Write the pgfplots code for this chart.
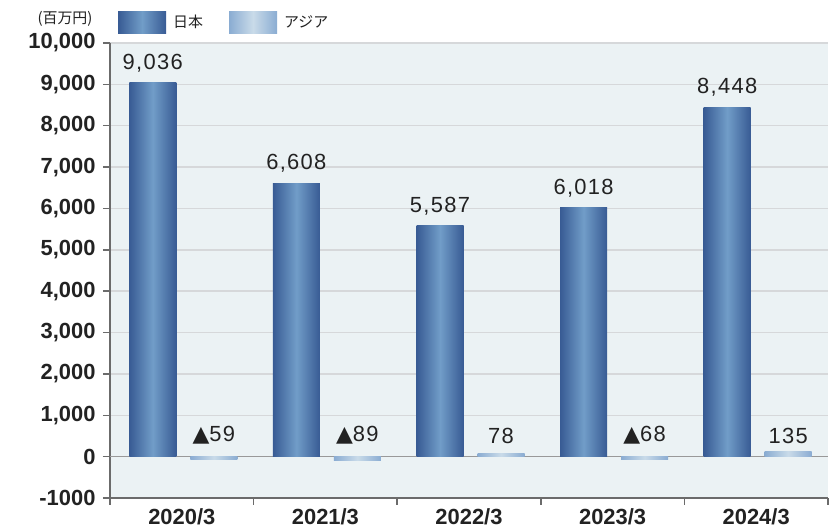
\documentclass[border=0pt]{standalone}
\usepackage{fontspec}
\setmainfont{Liberation Sans}
\newfontfamily\cjk{Noto Sans CJK JP}
\newfontfamily\dejavu{DejaVu Sans}
\newfontfamily\lab[LetterSpace=6]{Liberation Sans}
\usepackage{pgfplots}
\pgfplotsset{compat=1.18}
\definecolor{jpD}{HTML}{385B94}
\definecolor{jpL}{HTML}{719DC8}
\definecolor{asD}{HTML}{8AACD2}
\definecolor{asL}{HTML}{C9DBE9}
\definecolor{bg}{HTML}{EBF2F4}
\definecolor{gridc}{HTML}{D6D8DA}
\definecolor{axc}{HTML}{6B6B6B}
\definecolor{txt}{HTML}{222222}
\newcommand{\tri}{{\dejavu\fontsize{22}{24}\selectfont ▲}}
\tikzset{
  jpfill/.style={draw=none, left color=jpD, right color=jpD, middle color=jpL},
  asfill/.style={draw=none, left color=asD, right color=asD, middle color=asL},
}
\pgfplotsset{
  lblstyle/.style={nodes near coords, point meta=explicit symbolic,
    nodes near coords align=above,
    every node near coord/.append style={font=\lab\fontsize{22}{26}\selectfont, text=txt}},
  jpstyle/.style={ybar, bar width=47bp, bar shift=-29bp, jpfill},
  asstyle/.style={ybar, bar width=47bp, bar shift=32bp, asfill},
}
% x, value, label, label yshift
\newcommand{\jpbar}[4]{\addplot[jpstyle, lblstyle, forget plot,
   every node near coord/.append style={xshift=-29bp, yshift=#4}] coordinates {(#1,#2) [#3]};}
\newcommand{\asbar}[4]{\addplot[asstyle, lblstyle, forget plot,
   every node near coord/.append style={xshift=32bp, yshift=#4}] coordinates {(#1,#2) [#3]};}
\newcommand{\swatch}[1]{\tikz[baseline=-5bp]\path[#1] (0bp,-11bp) rectangle (48bp,11bp);}
\begin{document}
\begin{tikzpicture}
\path[use as bounding box] (-110bp,-32bp) rectangle (720bp,498bp);
\begin{axis}[
  at={(0,0)}, anchor=south west,
  width=718bp, height=455bp, scale only axis,
  clip=false,
  xmin=-0.5, xmax=4.5, ymin=-1000, ymax=10000,
  scaled y ticks=false,
  axis background/.style={fill=bg},
  axis x line*=bottom, axis y line*=left,
  axis line style={axc, line width=1.5bp},
  ytick={-1000,0,1000,2000,3000,4000,5000,6000,7000,8000,9000,10000},
  yticklabels={-1000,0,{1,000},{2,000},{3,000},{4,000},{5,000},{6,000},{7,000},{8,000},{9,000},{10,000}},
  ymajorgrids, grid style={gridc, line width=1.5bp},
  tick align=outside, major tick length=7bp,
  tick style={axc, line width=1.5bp},
  xtick={-0.5,0.5,1.5,2.5,3.5,4.5},
  x tick label as interval,
  xticklabels={2020/3,2021/3,2022/3,2023/3,2024/3},
  tick label style={font=\fontsize{22}{26}\selectfont\bfseries, text=txt},
  yticklabel style={xshift=-4bp},
  extra y ticks={0}, extra y tick labels={},
  extra y tick style={grid style={draw=black!40, line width=1.5bp}},
  legend style={at={(0,1)}, anchor=south west, xshift=-19bp, yshift=10bp,
    draw=none, fill=none, font=\cjk\fontsize{15}{18}\selectfont, text=txt,
    legend columns=-1, /tikz/every even column/.append style={column sep=0bp},
    /tikz/every odd column/.append style={column sep=22bp}},
]
\addlegendimage{empty legend}
\addlegendentry{\swatch{jpfill}\hspace{7bp}日本}
\addlegendimage{empty legend}
\addlegendentry{\swatch{asfill}\hspace{7bp}アジア}
\jpbar{0}{9036}{9,036}{7bp}
\jpbar{1}{6608}{6,608}{7bp}
\jpbar{2}{5587}{5,587}{7bp}
\jpbar{3}{6018}{6,018}{7bp}
\jpbar{4}{8448}{8,448}{7bp}
\asbar{0}{-59}{\tri59}{11.5bp}
\asbar{1}{-89}{\tri89}{12.5bp}
\asbar{2}{78}{78}{6bp}
\asbar{3}{-68}{\tri68}{12bp}
\asbar{4}{135}{135}{3.5bp}
\node[anchor=east, font=\cjk\fontsize{15}{18}\selectfont, text=txt] at (rel axis cs:0,1) [xshift=-14bp, yshift=24bp] {(百万円)};
\end{axis}
\end{tikzpicture}
\end{document}
